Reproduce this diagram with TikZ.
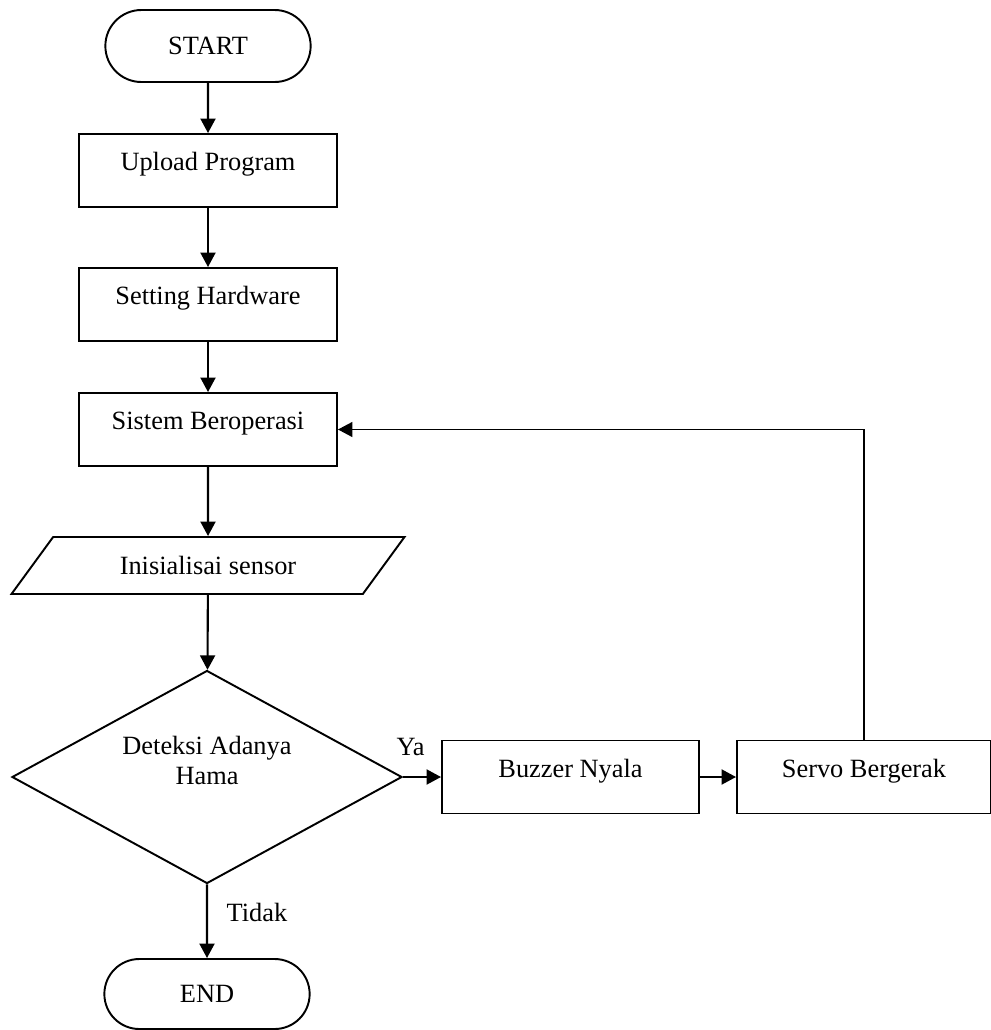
\documentclass[tikz,border=0pt]{standalone}
\usepackage{fontspec}
\setmainfont{Liberation Serif}
\usetikzlibrary{positioning,shapes.geometric,shapes.misc,arrows.meta}

\begin{document}
\begin{tikzpicture}[x=0.2mm, y=-0.2mm, every node/.style={align=center, font=\fontsize{15}{17}\selectfont},
  box/.style={draw, line width=1.1pt, minimum width=51.6mm, minimum height=14.6mm, text height=4mm, text depth=4mm},
  term/.style={draw, line width=1.1pt, rounded rectangle, minimum width=43.4mm, minimum height=14.4mm},
  io/.style={draw, line width=1.1pt, trapezium, trapezium left angle=36, trapezium right angle=144, trapezium stretches body, minimum width=78.6mm, minimum height=11.4mm},
  decision/.style={draw, line width=1.1pt, diamond, shape aspect=1.83, minimum width=78mm, minimum height=42.6mm},
  flow/.style={-{Triangle[length=2.9mm, width=3mm]}, line width=1.2pt}]
\useasboundingbox (0,0) rectangle (991,1030);

% Start and setup
\node[term] (start) at (208,46) {START};
\node[box] (upload) at (208,170.5) {Upload Program};
\node[box] (setting) at (208,304.5) {Setting Hardware};
\node[box] (sistem) at (208,429.5) {Sistem Beroperasi};

% Sensor and decision
\node[io] (init) at (208,565.5) {Inisialisai sensor};
\node[decision, text height=6mm, text depth=3mm] (detect) at (207,777) {Deteksi Adanya\\Hama};

% Actions
\node[box, minimum width=51.4mm] (buzzer) at (570.5,777) {Buzzer Nyala};
\node[box, minimum width=50.8mm] (servo) at (864,777) {Servo Bergerak};

% End
\node[term, minimum height=14mm] (end) at (207,994) {END};

% Arrows
\draw[flow] (start) -- (upload);
\draw[flow] (upload) -- (setting);
\draw[flow] (setting) -- (sistem);
\draw[flow] (sistem) -- (init);
\draw[flow] (init) -- (detect);
\draw[flow] (detect) -- node[pos=0.2, yshift=6mm] (ya) {Ya} (buzzer);
\draw[flow] (buzzer) -- (servo);
\draw[flow, line width=0.9pt] (servo.north) |- (sistem.east);
\draw[flow] (detect) -- node[pos=0.38, xshift=10mm] (tidak) {Tidak} (end);
\end{tikzpicture}
\end{document}
